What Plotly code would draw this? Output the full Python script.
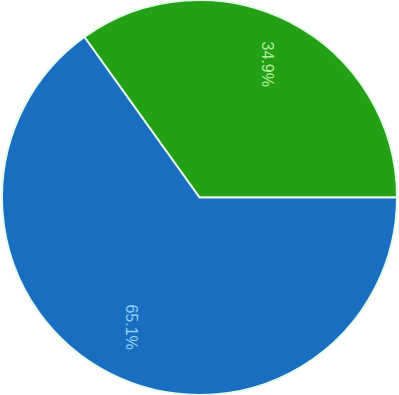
import math
import plotly.graph_objects as go

labels = ["Green", "Blue"]
values = [34.9, 65.1]
colors = ["#24a016", "#1a6ec2"]
text_colors = ["#b4ee9c", "#8fd0f4"]

rotation = 90 - values[0] / sum(values) * 360  # green ends at 3 o'clock

fig = go.Figure(go.Pie(
    labels=labels,
    values=values,
    sort=False,
    direction="clockwise",
    rotation=rotation,
    marker=dict(colors=colors, line=dict(color="#e4fbe8", width=2)),
    textinfo="none",
    hoverinfo="skip",
    showlegend=False,
    domain=dict(x=[0.0, 1.0], y=[0.0, 1.0]),
))

# labels rotated 90 degrees, placed at slice mid-angles
total = sum(values)
cx, cy = 0.5, 0.505
start = rotation
annotations = []
for v, tc in zip(values, text_colors):
    frac = v / total
    mid = start + frac * 360 / 2
    start += frac * 360
    a = math.radians(mid)
    rr = 0.375
    x = cx + rr * math.sin(a) * (395 / 399)
    y = cy + rr * math.cos(a)
    annotations.append(dict(
        x=x, y=y, xref="paper", yref="paper",
        xanchor="center", yanchor="middle",
        text=f"{v:.1f}%", showarrow=False, textangle=90,
        font=dict(family="Liberation Sans, Arial", size=16, color=tc),
    ))

fig.update_layout(
    width=399, height=395,
    margin=dict(l=0, r=0, t=0, b=0),
    paper_bgcolor="white", plot_bgcolor="white",
    annotations=annotations,
)
fig.write_html("out.html")
